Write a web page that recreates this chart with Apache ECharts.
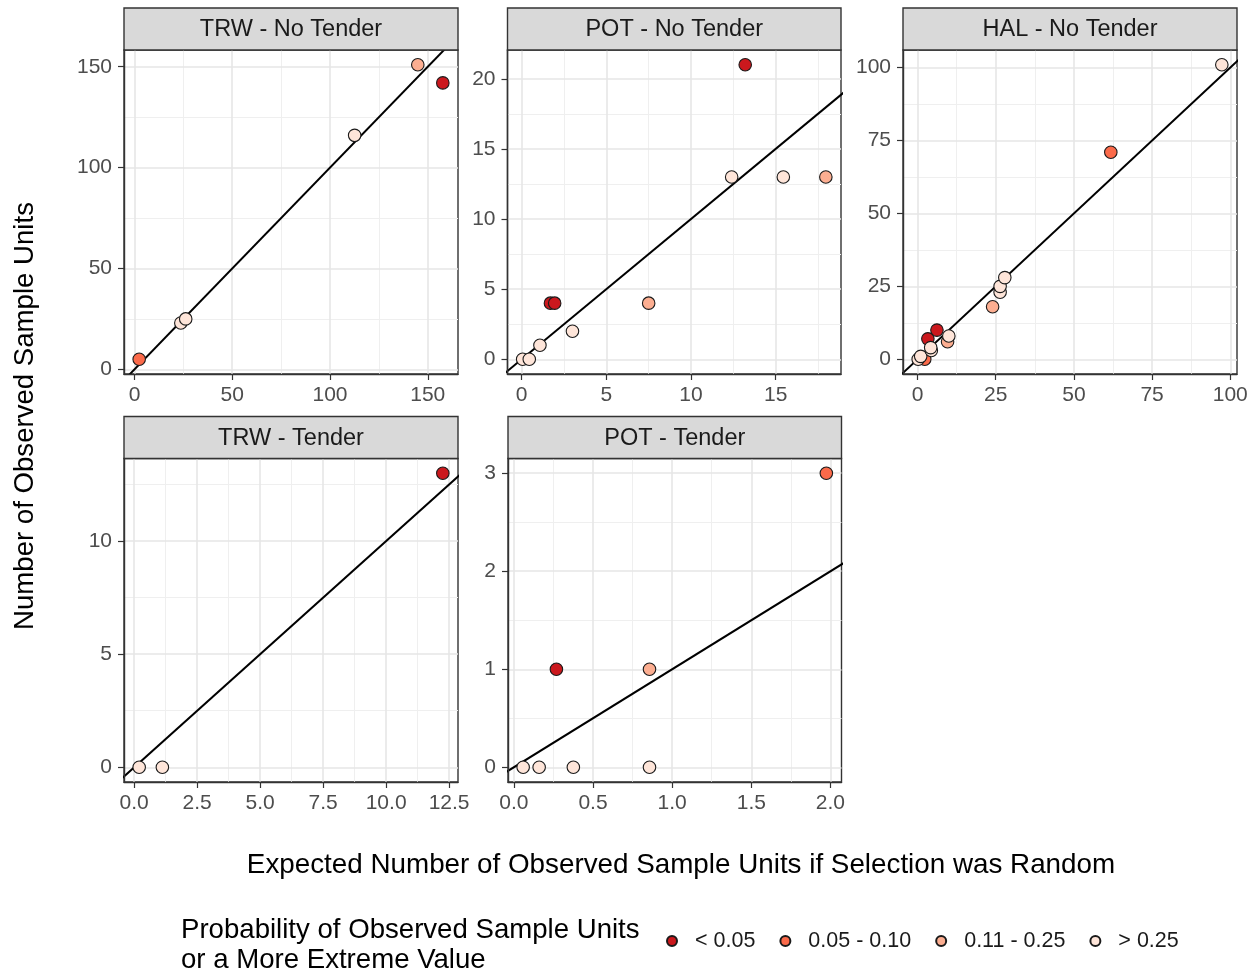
<!DOCTYPE html>
<html><head><meta charset="utf-8">
<script src="https://cdn.jsdelivr.net/npm/echarts@6/dist/echarts.min.js"></script>
<style>html,body{margin:0;padding:0;background:#fff}#c{width:1252px;height:974px}</style>
</head><body><div id="c"></div>
<script>
// ---------- DATA ----------
const categories = ['< 0.05', '0.05 - 0.10', '0.11 - 0.25', '> 0.25'];
const categoryColors = ['#CB181D', '#FB6A4A', '#FCAE91', '#FEE5D9'];
const panelTitles = ['TRW - No Tender', 'POT - No Tender', 'HAL - No Tender', 'TRW - Tender', 'POT - Tender'];

// category index: 0 '< 0.05', 1 '0.05 - 0.10', 2 '0.11 - 0.25', 3 '> 0.25'
const trwNoTenderX = [2.4, 23.7, 26.2, 112.6, 144.9, 157.7];
const trwNoTenderY = [5, 23, 25, 116, 151, 142];
const trwNoTenderC = [1, 3, 3, 3, 2, 0];

const potNoTenderX = [0.06, 0.45, 1.08, 3.0, 1.7, 1.95, 7.5, 12.4, 13.2, 15.45, 17.96];
const potNoTenderY = [0, 0, 1, 2, 4, 4, 4, 13, 21, 13, 13];
const potNoTenderC = [3, 3, 3, 3, 0, 0, 2, 3, 0, 3, 2];

const halNoTenderX = [0.2, 1.0, 2.3, 4.4, 4.2, 9.6, 10.0, 3.3, 6.2, 24.0, 26.4, 26.4, 27.9, 61.8, 97.3];
const halNoTenderY = [0, 1, 0, 3, 4, 6, 8, 7, 10, 18, 23, 25, 28, 71, 101];
const halNoTenderC = [3, 3, 1, 3, 3, 2, 3, 0, 0, 2, 3, 3, 3, 1, 3];

const trwTenderX = [0.2, 1.12, 12.25];
const trwTenderY = [0, 0, 13];
const trwTenderC = [3, 3, 0];

const potTenderX = [0.059, 0.16, 0.376, 0.857, 0.269, 0.857, 1.974];
const potTenderY = [0, 0, 0, 0, 1, 1, 3];
const potTenderC = [3, 3, 3, 3, 0, 2, 1];

const xTickValues = [[0, 50, 100, 150], [0, 5, 10, 15], [0, 25, 50, 75, 100], [0, 2.5, 5, 7.5, 10, 12.5], [0, 0.5, 1, 1.5, 2]];
const yTickValues = [[0, 50, 100, 150], [0, 5, 10, 15, 20], [0, 25, 50, 75, 100], [0, 5, 10], [0, 1, 2, 3]];
const xTickDecimals = [0, 0, 0, 1, 1];
const yTickDecimals = [0, 0, 0, 0, 0];

// ---------- LAYOUT ----------
const panelData = [
  [trwNoTenderX, trwNoTenderY, trwNoTenderC],
  [potNoTenderX, potNoTenderY, potNoTenderC],
  [halNoTenderX, halNoTenderY, halNoTenderC],
  [trwTenderX, trwTenderY, trwTenderC],
  [potTenderX, potTenderY, potTenderC]
];
const boxes = [
  {left: 124, top: 50, width: 334, height: 324},
  {left: 507.5, top: 50, width: 333.5, height: 324},
  {left: 903, top: 50, width: 334, height: 324},
  {left: 124, top: 458.5, width: 334, height: 323.5},
  {left: 508, top: 458.5, width: 333.5, height: 323.5}
];
const FONT = 'Liberation Sans';
const stripH = 42;

function expand(arr) {
  const lo = Math.min(...arr), hi = Math.max(...arr);
  const r = hi - lo;
  return [lo - 0.05 * r, hi + 0.05 * r];
}
function minorOf(ticks, ext) {
  const step = ticks[1] - ticks[0];
  const out = [];
  const all = [ticks[0] - step, ...ticks, ticks[ticks.length - 1] + step];
  for (let i = 0; i < all.length - 1; i++) {
    const m = (all[i] + all[i + 1]) / 2;
    if (m > ext[0] && m < ext[1]) out.push(m);
  }
  return out;
}

const grids = [], xAxes = [], yAxes = [], series = [], graphics = [];
const majorStyle = {color: '#E6E6E6', width: 1.6, type: 'solid'};
const minorStyle = {color: '#EFEFEF', width: 1, type: 'solid'};

boxes.forEach((b, i) => {
  const [xs, ys, cs] = panelData[i];
  const xe = expand(xs), ye = expand(ys);
  grids.push({left: b.left, top: b.top, width: b.width, height: b.height, show: true,
    borderColor: '#333333', borderWidth: 1.4, backgroundColor: '#ffffff', containLabel: false});
  const xd = xTickDecimals[i], yd = yTickDecimals[i];
  xAxes.push({type: 'value', gridIndex: i, min: xe[0], max: xe[1], z: 6,
    splitLine: {show: false},
    axisLine: {show: true, onZero: false, lineStyle: {color: '#333333', width: 1.4}},
    axisTick: {show: true, length: 6, customValues: xTickValues[i], lineStyle: {color: '#333333', width: 1.2}},
    axisLabel: {show: true, customValues: xTickValues[i], margin: 11, color: '#4D4D4D', fontSize: 21, fontFamily: FONT,
      formatter: v => Number(v).toFixed(xd)}});
  yAxes.push({type: 'value', gridIndex: i, min: ye[0], max: ye[1], z: 6,
    splitLine: {show: false},
    axisLine: {show: true, onZero: false, lineStyle: {color: '#333333', width: 1.4}},
    axisTick: {show: true, length: 6, customValues: yTickValues[i], lineStyle: {color: '#333333', width: 1.2}},
    axisLabel: {show: true, customValues: yTickValues[i], margin: 12, color: '#4D4D4D', fontSize: 21, fontFamily: FONT,
      formatter: v => Number(v).toFixed(yd)}});

  // grid lines (major + minor) via markLine, kept underneath everything
  const ml = [];
  minorOf(xTickValues[i], xe).forEach(v => ml.push({xAxis: v, lineStyle: minorStyle}));
  minorOf(yTickValues[i], ye).forEach(v => ml.push({yAxis: v, lineStyle: minorStyle}));
  xTickValues[i].forEach(v => ml.push({xAxis: v, lineStyle: majorStyle}));
  yTickValues[i].forEach(v => ml.push({yAxis: v, lineStyle: majorStyle}));
  series.push({type: 'scatter', xAxisIndex: i, yAxisIndex: i, data: [], z: 1, silent: true,
    markLine: {z: 1, symbol: ['none', 'none'], silent: true, animation: false, label: {show: false},
      emphasis: {disabled: true}, data: ml}});

  // y = x reference line
  const lo = Math.min(xe[0], ye[0]), hi = Math.max(xe[1], ye[1]);
  series.push({type: 'line', xAxisIndex: i, yAxisIndex: i, data: [[lo, lo], [hi, hi]], showSymbol: false,
    clip: true, silent: true, z: 3, lineStyle: {color: '#000000', width: 2}, animation: false});

  // points per category
  categories.forEach((name, c) => {
    const pts = [];
    xs.forEach((x, k) => { if (cs[k] === c) pts.push([x, ys[k]]); });
    series.push({type: 'scatter', name: name, xAxisIndex: i, yAxisIndex: i, data: pts, z: 4,
      symbol: 'circle', symbolSize: 12.5, animation: false,
      itemStyle: {color: categoryColors[c], borderColor: '#1A1A1A', borderWidth: 1.1, opacity: 1}});
  });

  // strip
  graphics.push({type: 'rect', shape: {x: b.left, y: b.top - stripH, width: b.width, height: stripH}, z: 5,
    style: {fill: '#D9D9D9', stroke: '#333333', lineWidth: 1.4}});
  graphics.push({type: 'text', x: b.left + b.width / 2, y: b.top - stripH / 2 + 1, z: 6,
    style: {text: panelTitles[i], fill: '#1A1A1A', font: '23.5px "' + FONT + '"', align: 'center', verticalAlign: 'middle'}});
});

graphics.push({type: 'text', x: 681, y: 865, style: {text: 'Expected Number of Observed Sample Units if Selection was Random',
  fill: '#000', font: '27.8px "' + FONT + '"', align: 'center', verticalAlign: 'middle'}});
graphics.push({type: 'text', x: 25, y: 416, rotation: Math.PI / 2, style: {text: 'Number of Observed Sample Units',
  fill: '#000', font: '27.6px "' + FONT + '"', align: 'center', verticalAlign: 'middle'}});
graphics.push({type: 'text', x: 181, y: 945, style: {text: 'Probability of Observed Sample Units\nor a More Extreme Value',
  fill: '#000', font: '27.6px "' + FONT + '"', lineHeight: 30, align: 'left', verticalAlign: 'middle'}});

const option = {
  animation: false,
  textStyle: {fontFamily: FONT},
  grid: grids, xAxis: xAxes, yAxis: yAxes, series: series,
  legend: {data: categories, left: 661, top: 925, icon: 'circle', itemWidth: 36, itemHeight: 10, itemGap: 24,
    selectedMode: false, textStyle: {fontSize: 21.5, color: '#1A1A1A', fontFamily: FONT}},
  graphic: graphics
};
const chart = echarts.init(document.getElementById('c'), null, {renderer: 'canvas'});
chart.setOption(option);
</script></body></html>
